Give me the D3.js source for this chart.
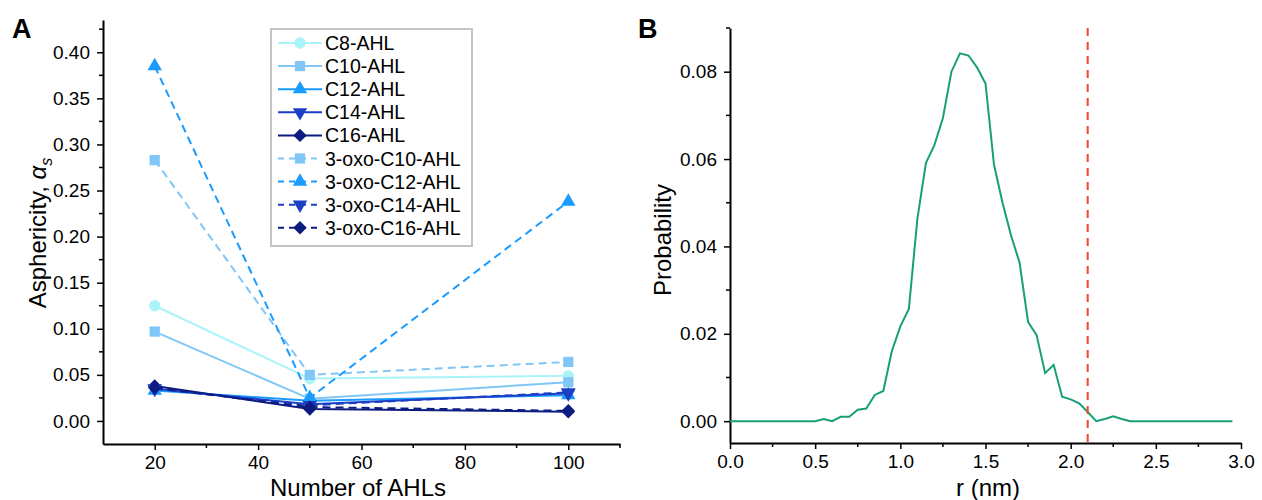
<!DOCTYPE html>
<html>
<head>
<meta charset="utf-8">
<script src="https://cdn.jsdelivr.net/npm/d3@7"></script>
<style>
  body { margin: 0; background: #fff; }
  text { font-family: "Liberation Sans", Arial, sans-serif; fill: #000; }
</style>
</head>
<body>
<div id="wrapper"></div>
<script>
// ---- panel A data ----
const ahlCounts = [20, 50, 100];
const seriesNames = ["C8-AHL", "C10-AHL", "C12-AHL", "C14-AHL", "C16-AHL",
  "3-oxo-C10-AHL", "3-oxo-C12-AHL", "3-oxo-C14-AHL", "3-oxo-C16-AHL"];
const c8 = [0.125, 0.046, 0.049];
const c10 = [0.097, 0.024, 0.042];
const c12 = [0.033, 0.022, 0.028];
const c14 = [0.035, 0.018, 0.030];
const c16 = [0.038, 0.013, 0.010];
const oxoC10 = [0.283, 0.050, 0.064];
const oxoC12 = [0.385, 0.025, 0.238];
const oxoC14 = [0.035, 0.017, 0.031];
const oxoC16 = [0.036, 0.015, 0.011];
const seriesValues = [c8, c10, c12, c14, c16, oxoC10, oxoC12, oxoC14, oxoC16];
const seriesColors = ["#aaf3f8", "#80c6f6", "#1a9bff", "#1c3fc6", "#0c1c80",
  "#80c6f6", "#1a9bff", "#1c3fc6", "#0c1c80"];
const seriesMarkers = ["circle", "square", "up", "down", "diamond",
  "square", "up", "down", "diamond"];
const seriesDashed = [false, false, false, false, false, true, true, true, true];

// ---- panel B data ----
const rValues = [0.00, 0.05, 0.10, 0.15, 0.20, 0.25, 0.30, 0.35, 0.40, 0.45,
  0.50, 0.55, 0.60, 0.65, 0.70, 0.75, 0.80, 0.85, 0.90, 0.95,
  1.00, 1.05, 1.10, 1.15, 1.20, 1.25, 1.30, 1.35, 1.40, 1.45,
  1.50, 1.55, 1.60, 1.65, 1.70, 1.75, 1.80, 1.85, 1.90, 1.95,
  2.00, 2.05, 2.10, 2.15, 2.20, 2.25, 2.30, 2.35, 2.40, 2.45,
  2.50, 2.55, 2.60, 2.65, 2.70, 2.75, 2.80, 2.85, 2.90, 2.95];
const probValues = [0, 0, 0, 0, 0, 0, 0, 0, 0, 0,
  0, 0.0005, 0, 0.001, 0.001, 0.0026, 0.0029, 0.006, 0.0069, 0.016,
  0.0217, 0.0257, 0.0463, 0.0591, 0.0632, 0.0694, 0.080, 0.0842, 0.0837, 0.081,
  0.0773, 0.0587, 0.050, 0.0425, 0.0363, 0.0227, 0.0197, 0.011, 0.0129, 0.0056,
  0.005, 0.0041, 0.0021, 0, 0.0005, 0.0011, 0.0005, 0, 0, 0,
  0, 0, 0, 0, 0, 0, 0, 0, 0, 0];
const cutoffR = 2.1;

const svg = d3.select("#wrapper").append("svg")
  .attr("width", 1262).attr("height", 500)
  .style("background", "#fff");

// helper for Origin-like axes: outward major + minor ticks
function drawAxis(g, axisFn, scale, majors, minors, fmt, orient) {
  g.call(axisFn(scale).tickValues(majors).tickFormat(fmt).tickSize(6)
    .tickPadding(orient === "bottom" ? 6 : 7).tickSizeOuter(0));
  g.call(s => s.select(".domain").attr("stroke-width", 2));
  g.selectAll(".tick line").attr("stroke-width", 1.5);
  g.selectAll(".tick text").style("font-size", "19px").style("font-family", "Liberation Sans, Arial, sans-serif");
  g.selectAll(".minor").data(minors).enter().append("line")
    .attr("class", "minor")
    .attr("stroke", "#000").attr("stroke-width", 1.5)
    .each(function(d) {
      const el = d3.select(this);
      if (orient === "bottom") el.attr("x1", scale(d)).attr("x2", scale(d)).attr("y1", 0).attr("y2", 4);
      else el.attr("y1", scale(d)).attr("y2", scale(d)).attr("x1", 0).attr("x2", -4);
    });
}

// ================= Panel A =================
const xA = d3.scaleLinear().domain([10, 110]).range([103, 620]);
const yA = d3.scaleLinear().domain([-0.025, 0.435]).range([444, 20]);

const axA = svg.append("g").attr("transform", "translate(0,444)");
drawAxis(axA, d3.axisBottom, xA, [20, 40, 60, 80, 100], [30, 50, 70, 90, 110], d3.format("d"), "bottom");
const ayA = svg.append("g").attr("transform", "translate(103,0)");
drawAxis(ayA, d3.axisLeft, yA, d3.range(0, 0.41, 0.05), d3.range(0.025, 0.44, 0.05), d3.format(".2f"), "left");

const symbolFor = m => {
  if (m === "circle") return { type: d3.symbolCircle, size: 100, rot: 0 };
  if (m === "square") return { type: d3.symbolSquare, size: 105, rot: 0 };
  if (m === "up") return { type: d3.symbolTriangle, size: 90, rot: 0 };
  if (m === "down") return { type: d3.symbolTriangle, size: 90, rot: 180 };
  return { type: d3.symbolSquare, size: 90, rot: 45 };
};

const lineA = d3.line().x((d, i) => xA(ahlCounts[i])).y(d => yA(d));
const seriesG = svg.append("g");
seriesValues.forEach((vals, k) => {
  const g = seriesG.append("g");
  g.append("path").datum(vals)
    .attr("d", lineA)
    .attr("fill", "none")
    .attr("stroke", seriesColors[k])
    .attr("stroke-width", 2)
    .attr("stroke-dasharray", seriesDashed[k] ? "8,5" : null);
  const sym = symbolFor(seriesMarkers[k]);
  g.selectAll("path.m").data(vals).enter().append("path")
    .attr("class", "m")
    .attr("d", d3.symbol().type(sym.type).size(sym.size))
    .attr("transform", (d, i) => `translate(${xA(ahlCounts[i])},${yA(d)}) rotate(${sym.rot})`)
    .attr("fill", seriesColors[k]);
});

// legend
const legend = svg.append("g");
legend.append("rect")
  .attr("x", 271).attr("y", 29).attr("width", 201).attr("height", 217)
  .attr("fill", "#fff").attr("stroke", "#c4c4c4").attr("stroke-width", 2);
seriesNames.forEach((name, k) => {
  const y = 43 + k * 23.1;
  const row = legend.append("g");
  row.append("line")
    .attr("x1", 278).attr("x2", 322).attr("y1", y).attr("y2", y)
    .attr("stroke", seriesColors[k]).attr("stroke-width", 2)
    .attr("stroke-dasharray", seriesDashed[k] ? "6,5" : null);
  const sym = symbolFor(seriesMarkers[k]);
  row.append("path")
    .attr("d", d3.symbol().type(sym.type).size(sym.size))
    .attr("transform", `translate(300,${y}) rotate(${sym.rot})`)
    .attr("fill", seriesColors[k]);
  row.append("text").attr("x", 325).attr("y", y + 7)
    .style("font-size", "19.5px").text(name);
});

// titles
svg.append("text").attr("x", 358).attr("y", 496).attr("text-anchor", "middle")
  .style("font-size", "24px").text("Number of AHLs");
const yTitleA = svg.append("text")
  .attr("transform", "translate(46,233) rotate(-90)")
  .attr("text-anchor", "middle").style("font-size", "24px");
yTitleA.append("tspan").text("Asphericity, ");
yTitleA.append("tspan").style("font-style", "italic").text("α");
yTitleA.append("tspan").attr("dy", 6).style("font-size", "16px").style("font-style", "italic").text("s");
svg.append("text").attr("x", 12).attr("y", 38)
  .style("font-size", "27px").style("font-weight", "bold").text("A");

// ================= Panel B =================
const xB = d3.scaleLinear().domain([0, 3]).range([730, 1241]);
const yB = d3.scaleLinear().domain([-0.005, 0.09]).range([443, 28]);

const axB = svg.append("g").attr("transform", "translate(0,443)");
drawAxis(axB, d3.axisBottom, xB, d3.range(0, 3.01, 0.5), d3.range(0.25, 3, 0.5), d3.format(".1f"), "bottom");
const ayB = svg.append("g").attr("transform", "translate(730,0)");
drawAxis(ayB, d3.axisLeft, yB, d3.range(0, 0.081, 0.02), d3.range(0.01, 0.091, 0.02), d3.format(".2f"), "left");

svg.append("path").datum(probValues)
  .attr("d", d3.line().x((d, i) => xB(rValues[i])).y(d => yB(d)))
  .attr("fill", "none").attr("stroke", "#17a077").attr("stroke-width", 2);

svg.append("line")
  .attr("x1", xB(cutoffR)).attr("x2", xB(cutoffR))
  .attr("y1", yB(0.09)).attr("y2", yB(-0.005))
  .attr("stroke", "#f7442a").attr("stroke-width", 2)
  .attr("stroke-dasharray", "8,6");

svg.append("text").attr("x", 988).attr("y", 496).attr("text-anchor", "middle")
  .style("font-size", "24px").text("r (nm)");
svg.append("text")
  .attr("transform", "translate(671,240) rotate(-90)")
  .attr("text-anchor", "middle").style("font-size", "24px").text("Probability");
svg.append("text").attr("x", 638).attr("y", 38)
  .style("font-size", "27px").style("font-weight", "bold").text("B");
</script>
</body>
</html>
